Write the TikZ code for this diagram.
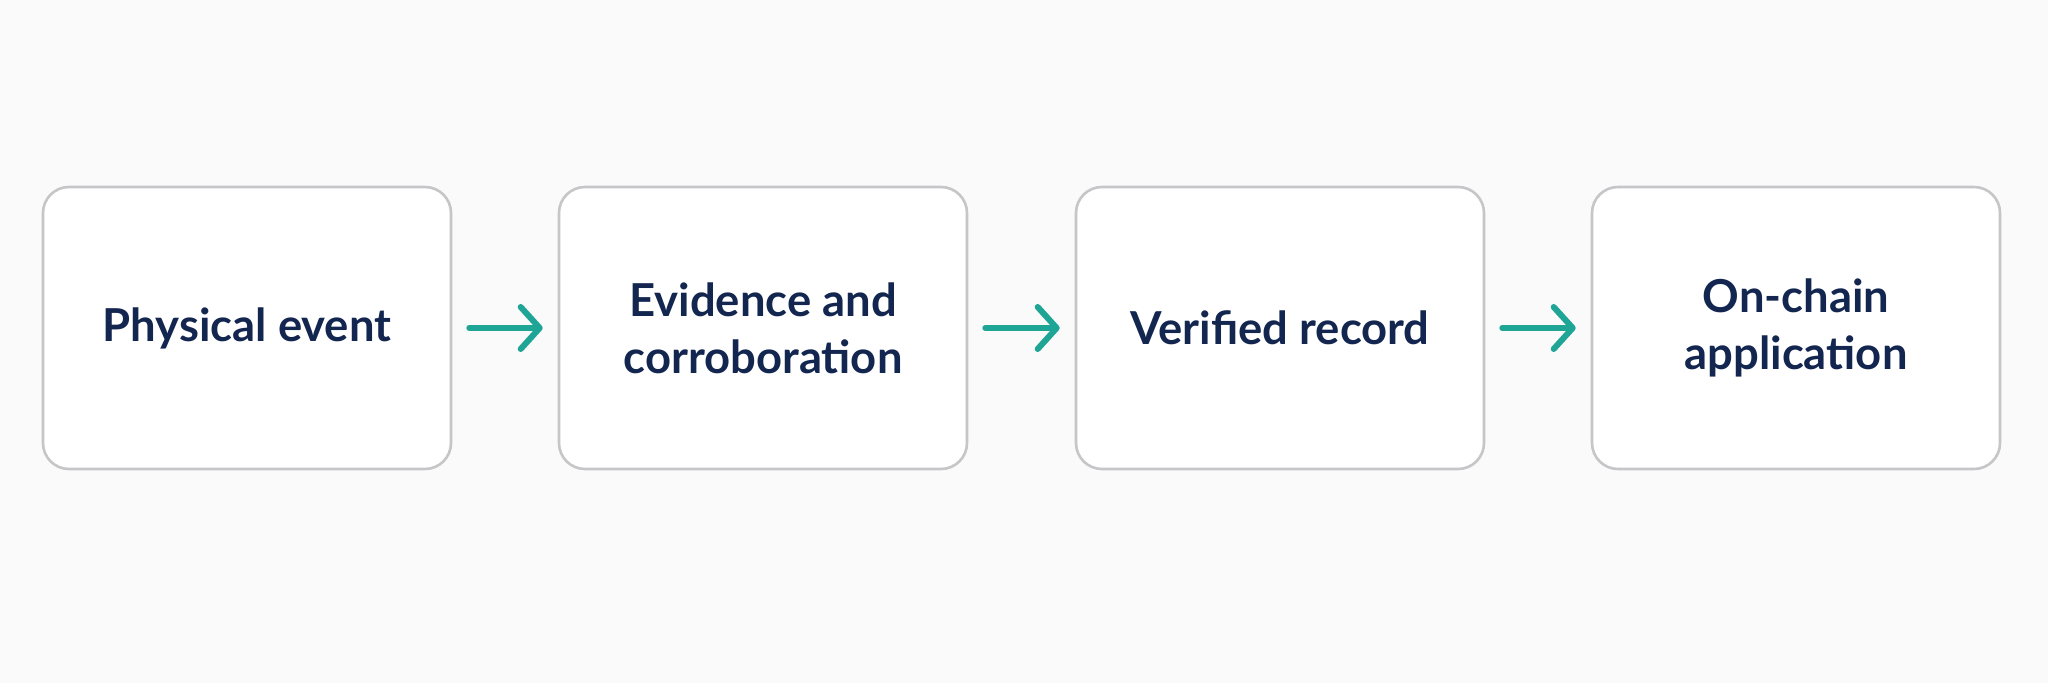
\documentclass[tikz,border=0pt]{standalone}
\usepackage{fontspec}
\setmainfont{Lato}[UprightFont=* Bold]
\usetikzlibrary{arrows.meta}
\definecolor{bg}{HTML}{FAFAFB}
\definecolor{edge}{HTML}{C6C6C8}
\definecolor{navy}{HTML}{13264F}
\definecolor{teal}{HTML}{1FA595}
\tikzset{
  stepbox/.style={draw=edge, line width=1.3pt, fill=white, rounded corners=13pt,
    minimum width=204pt, minimum height=141pt, inner sep=0pt,
    align=center, text=navy, font=\fontsize{22.7}{28.5}\selectfont},
  flow/.style={draw=teal, line width=3pt, line cap=round,
    -{Straight Barb[length=9.5pt, width=21pt, line width=3pt, round]}}
}
\begin{document}
\begin{tikzpicture}[x=0.5pt, y=-0.5pt]
\fill[bg] (0,0) rectangle (2048,683);
\useasboundingbox (0,0) rectangle (2048,683);
\node[stepbox] (a) at (247,328) {Physical event};
\node[stepbox] (b) at (763,328) {Evidence and\\corroboration};
\node[stepbox] (c) at (1280,328) {Verified record};
\node[stepbox] (d) at (1796,328) {On-chain\\application};
\draw[flow] ([xshift=8.5pt]a.east) -- ([xshift=-7.5pt]b.west);
\draw[flow] ([xshift=8.5pt]b.east) -- ([xshift=-7.5pt]c.west);
\draw[flow] ([xshift=8.5pt]c.east) -- ([xshift=-7.5pt]d.west);
\end{tikzpicture}
\end{document}
